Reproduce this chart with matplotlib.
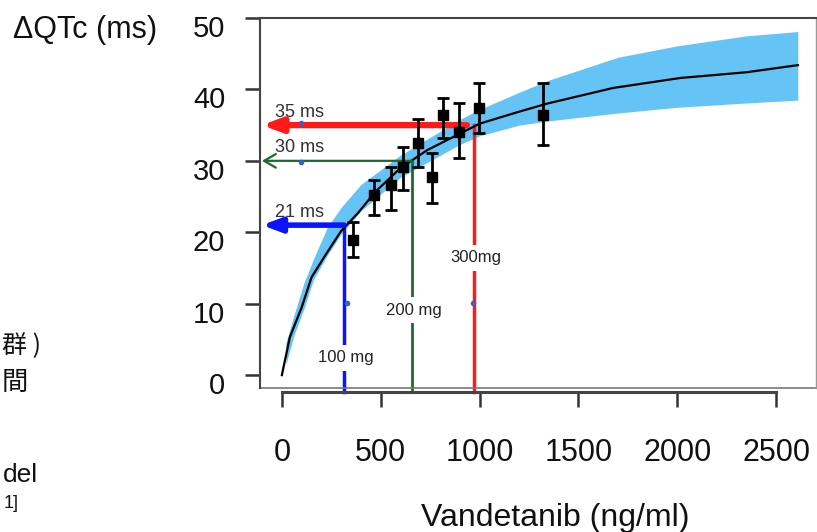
import matplotlib.pyplot as plt
from matplotlib.transforms import ScaledTranslation

plt.rcParams['font.family'] = ['Liberation Sans', 'DejaVu Sans']

# model prediction
curve_conc = [0, 5, 40, 100, 150, 220, 300, 385, 470, 600, 735, 885, 1000, 1190, 1340, 1675, 2015, 2350, 2610]
curve_qtc = [0, 0.7, 5.3, 9.5, 13.7, 16.8, 20.2, 22.7, 25.6, 29.0, 31.5, 33.6, 35.2, 36.8, 38.0, 40.2, 41.6, 42.4, 43.4]

band_conc = [20, 60, 110, 160, 230, 300, 400, 600, 900, 1000, 1200, 1350, 1700, 2000, 2350, 2610]
band_lo = [1.5, 5.5, 9.2, 13.4, 16.8, 19.8, 23.0, 27.7, 32.3, 33.5, 35.0, 35.6, 36.7, 37.5, 38.1, 38.5]
band_hi = [4.5, 8.3, 12.8, 16.3, 20.7, 23.5, 26.7, 30.8, 35.8, 37.2, 39.6, 41.3, 44.5, 46.1, 47.5, 48.1]

# observed means with error bars
obs_conc = [359, 466, 552, 612, 688, 759, 815, 896, 997, 1321]
obs_qtc = [18.9, 25.2, 26.6, 29.1, 32.5, 27.7, 36.4, 34.0, 37.4, 36.4]
obs_lo = [16.5, 22.4, 23.1, 25.9, 29.1, 24.1, 33.2, 30.4, 33.9, 32.2]
obs_hi = [21.4, 27.3, 29.1, 31.9, 35.9, 31.1, 38.8, 38.1, 40.9, 40.9]

# dose lines
doses = ['100 mg', '200 mg', '300mg']
dose_conc = [314, 658, 972]
dose_qtc = [21, 30, 35]
arrow_from = [314, 658, 936]
qtc_labels = ['21 ms', '30 ms', '35 ms']
dose_colors = ['#0a14ff', '#1c6a2c', '#ff1a1a']

# stray little blue dots in the picture
dot_conc = [96, 96, 329, 967]
dot_qtc = [35.3, 29.8, 10.1, 10.1]

fig = plt.figure(figsize=(8.17, 5.32), dpi=100)
ax = fig.add_axes([0.3182, 0.2707, 0.6806, 0.6955])

ax.fill_between(band_conc, band_lo, band_hi, color='#66c3f6', lw=0, zorder=1)
ax.plot(curve_conc, curve_qtc, color='black', lw=1.6, zorder=3)

lo_err = [m - l for m, l in zip(obs_qtc, obs_lo)]
hi_err = [h - m for m, h in zip(obs_qtc, obs_hi)]
ax.errorbar(obs_conc, obs_qtc, yerr=[lo_err, hi_err], fmt='s', color='black',
            ms=7, elinewidth=2, capsize=4.5, capthick=2, zorder=5)

arrow_lw = [4.0, 1.6, 4.5]
arrow_style = ['-|>,head_length=0.8,head_width=0.3',
               '->,head_length=0.6,head_width=0.35',
               '-|>,head_length=0.8,head_width=0.3']
vline_lw = [2.5, 2.0, 2.5]
label_y = [2.4, 9.1, 16.4]

for i in range(3):
    c = dose_colors[i]
    ax.plot([dose_conc[i], dose_conc[i]], [dose_qtc[i], -2.4], color=c,
            lw=vline_lw[i], clip_on=False, zorder=2)
    ax.annotate('', xy=(-101, dose_qtc[i]), xytext=(arrow_from[i], dose_qtc[i]),
                arrowprops=dict(arrowstyle=arrow_style[i], color=c, lw=arrow_lw[i],
                                shrinkA=0, shrinkB=0, mutation_scale=14),
                zorder=4)
    ax.text(-35, dose_qtc[i] + 1.8, qtc_labels[i], fontsize=13, color='#333333',
            ha='left', va='center', zorder=6)
    ax.text(dose_conc[i] + 8, label_y[i], doses[i], fontsize=12, color='#222222',
            ha='center', va='center', zorder=6,
            bbox=dict(fc='white', ec='none', pad=4))

ax.plot(dot_conc, dot_qtc, 'o', color='#3a5fd0', ms=3, zorder=4)

ax.set_xlim(-111, 2702)
ax.set_ylim(-1.8, 50)
ax.set_xticks([0, 500, 1000, 1500, 2000, 2500])
ax.set_yticks([0, 10, 20, 30, 40, 50])

for s in ['left', 'top', 'bottom']:
    ax.spines[s].set_color('#444444')
    ax.spines[s].set_linewidth(1.5)
ax.spines['right'].set_color('#999999')
ax.spines['right'].set_linewidth(1.0)
ax.spines['bottom'].set_position(('outward', 3))
ax.spines['bottom'].set_bounds(0, 2500)
ax.spines['bottom'].set_linewidth(2.2)
ax.plot([0, 1], [0, 0], transform=ax.transAxes, color='#777777', lw=1.2, clip_on=False)

ax.tick_params(axis='both', direction='out', length=11, width=1.8, colors='#333333',
               labelcolor='#111111')
ax.tick_params(axis='y', labelsize=21, pad=14)
ax.tick_params(axis='x', labelsize=22, pad=22)

offset = ScaledTranslation(0, -0.08, fig.dpi_scale_trans)
for t in ax.get_yticklabels():
    t.set_transform(t.get_transform() + offset)

fig.text(13 / 817, 1 - 30 / 532, 'ΔQTc (ms)', fontsize=22, color='#111111',
         ha='left', va='center')
fig.text(555 / 817, 1 - 518 / 532, 'Vandetanib (ng/ml)', fontsize=23, color='#111111',
         ha='center', va='center')

# slide text fragments at the left edge
cjk = ['Noto Sans CJK JP', 'DejaVu Sans']
fig.text(2 / 817, 1 - 346 / 532, '群 )', fontsize=18, family=cjk, color='#111111',
         ha='left', va='center')
fig.text(2 / 817, 1 - 382 / 532, '間', fontsize=19, family=cjk, color='#111111',
         ha='left', va='center')
fig.text(38 / 817, 1 - 482 / 532, 'del', fontsize=19, color='#111111',
         ha='right', va='baseline')
fig.text(19 / 817, 1 - 508 / 532, '1]', fontsize=13, color='#111111',
         ha='right', va='baseline')

fig.savefig('out.png', dpi=100)
